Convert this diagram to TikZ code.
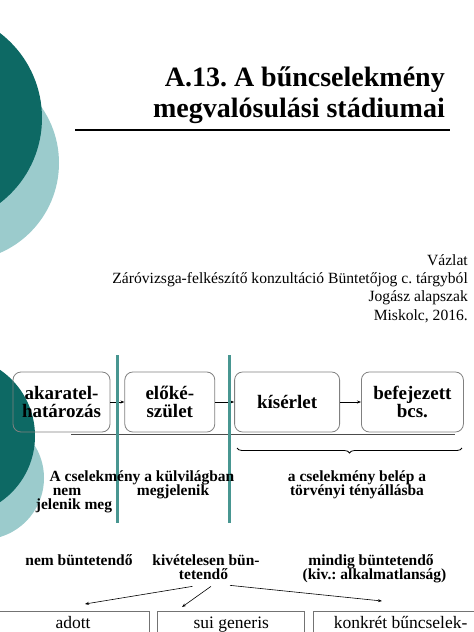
\documentclass[tikz,border=0pt]{standalone}
\usepackage{fontspec}
\setmainfont{Liberation Serif}
\frenchspacing
\usetikzlibrary{positioning, arrows.meta, decorations.pathreplacing, calc}
\definecolor{darkteal}{RGB}{13,105,100}
\definecolor{lightteal}{RGB}{155,203,204}
\definecolor{barteal}{RGB}{72,150,145}
\tikzset{
  heading/.style={
    anchor=base east,
    inner sep=0pt,
    font=\fontsize{28}{31}\selectfont\bfseries
  },
  byline/.style={
    anchor=base east,
    inner sep=0pt,
    font=\fontsize{15.6}{18}\selectfont
  },
  stage/.style={
    draw=black!50,
    line width=0.8pt,
    rounded corners=8pt,
    minimum height=60pt,
    inner sep=2pt,
    align=center,
    font=\fontsize{19}{18}\selectfont\bfseries
  },
  note/.style={
    anchor=base,
    inner sep=0pt,
    font=\fontsize{15.5}{13}\selectfont\bfseries
  },
  kind/.style={
    draw=black!55,
    line width=0.8pt,
    anchor=north,
    inner xsep=0pt,
    inner ysep=5pt,
    text height=12pt,
    text depth=24pt,
    font=\fontsize{17.5}{20}\selectfont
  },
  flow/.style={
    -{Stealth[length=4pt, width=3pt]},
    line width=0.6pt
  },
  bar/.style={
    draw=barteal,
    line width=3pt
  }
}

\begin{document}
\begin{tikzpicture}[x=1pt, y=-1pt]
        \useasboundingbox (0,0) rectangle (474,632);
        \clip (0,0) rectangle (474,632);
        % title slide
        \fill[lightteal] (-39,163) circle (98);
        \fill[darkteal] (-65,118) circle (107);
        \node[heading] (title) at (445,86) {A.13. A bűncselekmény};
        \node[heading] (subject) at (445,117) {megvalósulási stádiumai};
        \draw[line width=1.2pt] (75,130) -- (450,130);
        \node[byline] (outline) at (468,265) {Vázlat};
        \node[byline] (course) at (468,283) {Záróvizsga-felkészítő konzultáció Büntetőjog c. tárgyból};
        \node[byline] (level) at (468,301) {Jogász alapszak};
        \node[byline] (place) at (468,320) {Miskolc, 2016.};

        % stages
        \fill[lightteal] (-17.5,478) circle (61.5);
        \fill[darkteal] (-45,436) circle (80);
        \node[stage, minimum width=97pt] (intent) at (61.5,402) {akaratel-\\határozás};
        \node[stage, minimum width=90pt, right=14pt of intent] (prep) {előké-\\szület};
        \node[stage, minimum width=105pt, right=19pt of prep] (attempt) {kísérlet};
        \node[stage, minimum width=102pt, right=21pt of attempt] (done) {befejezett\\bcs.};
        \draw[flow] (intent) -- (prep);
        \draw[flow] (prep) -- (attempt);
        \draw[flow] (attempt) -- (done);

        \draw[black!70, line width=0.8pt] (71,434) -- (455,434);
        \draw[line width=0.8pt, decorate, decoration={brace, amplitude=5pt, mirror}] (237,448) -- (462,448);
        \draw[bar] (117,355) -- (117,523);
        \draw[bar] (229,355) -- (229,523);

        \node[note] (outer) at (142,481) {A cselekmény a külvilágban};
        \node[note] (nothidden) at (67,495) {nem};
        \node[note] (appears) at (173,495) {megjelenik};
        \node[note] (nothidden2) at (74,509) {jelenik meg};
        \node[note] (enters) at (357,481) {a cselekmény belép a};
        \node[note] (enters2) at (357,495) {törvényi tényállásba};

        % punishability
        \node[note] (never) at (79,565) {nem büntetendő};
        \node[note] (rarely) at (206,565) {kivételesen bün-};
        \node[note] (rarely2) at (203.5,579) {tetendő};
        \node[note] (always) at (371,565) {mindig büntetendő};
        \node[note] (always2) at (374.5,579) {(kiv.: alkalmatlanság)};

        \node[kind, minimum width=152pt] (given) at (73,611) {adott};
        \node[kind, minimum width=147pt, right=8pt of given] (sui) {sui generis};
        \node[kind, minimum width=174pt, right=8pt of sui] (concrete) {konkrét bűncselek-};

        \coordinate (givenTip) at (85,604);
        \coordinate (suiTip) at (182,607);
        \coordinate (concreteTip) at (382,601);
        \draw[flow] ($(rarely2.south)+(-11,7)$) -- (givenTip);
        \draw[flow] ($(rarely2.south)+(7.5,7)$) -- (suiTip);
        \draw[flow] ($(rarely2.south)+(26.5,6)$) -- (concreteTip);
      \end{tikzpicture}
\end{document}
